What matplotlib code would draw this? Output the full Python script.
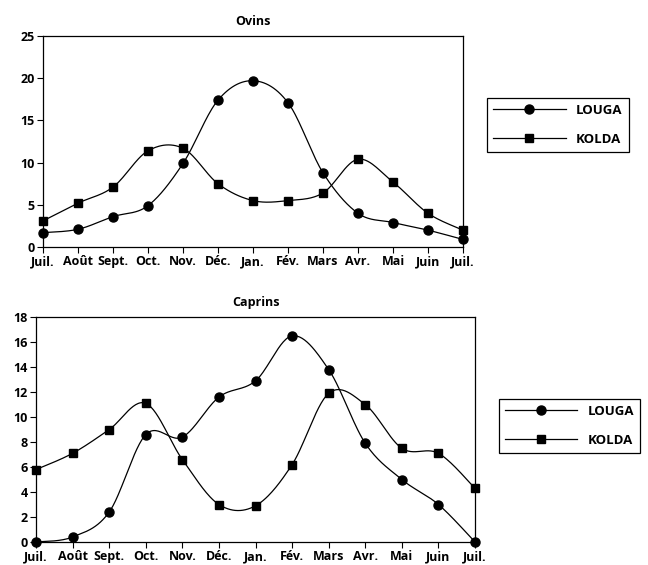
import numpy as np
import matplotlib
matplotlib.use("Agg")
import matplotlib.pyplot as plt
from matplotlib.lines import Line2D

plt.rcParams['font.family'] = ['Open Sans', 'DejaVu Sans']

months = ["Juil.", "Août", "Sept.", "Oct.", "Nov.", "Déc.", "Jan.", "Fév.",
          "Mars", "Avr.", "Mai", "Juin", "Juil."]

ovins_louga = [1.7, 2.1, 3.6, 4.9, 9.9, 17.4, 19.7, 17.1, 8.8, 4.0, 2.9, 2.0, 0.9]
ovins_kolda = [3.1, 5.2, 7.1, 11.4, 11.7, 7.5, 5.5, 5.5, 6.4, 10.4, 7.7, 4.0, 2.0]

caprins_louga = [0.0, 0.4, 2.4, 8.6, 8.4, 11.6, 12.9, 16.5, 13.8, 7.9, 5.0, 3.0, 0.0]
caprins_kolda = [5.8, 7.1, 9.0, 11.1, 6.6, 3.0, 2.9, 6.2, 11.9, 11.0, 7.5, 7.1, 4.3]

series_names = ["LOUGA", "KOLDA"]


def smooth(y, n=30):
    """Excel-like smoothing (Catmull-Rom / Bezier with 1/6 tension)."""
    y = np.asarray(y, float)
    x = np.arange(len(y), dtype=float)
    P = np.column_stack([x, y])
    ext = np.vstack([P[0], P, P[-1]])
    out = []
    for i in range(len(P) - 1):
        p0, p1, p2, p3 = ext[i], ext[i + 1], ext[i + 2], ext[i + 3]
        c1 = p1 + (p2 - p0) / 6.0
        c2 = p2 - (p3 - p1) / 6.0
        t = np.linspace(0, 1, n)[:, None]
        seg = ((1 - t) ** 3) * p1 + 3 * ((1 - t) ** 2) * t * c1 + 3 * (1 - t) * t ** 2 * c2 + t ** 3 * p2
        if i > 0:
            seg = seg[1:]
        out.append(seg)
    s = np.vstack(out)
    return s[:, 0], s[:, 1]


fig = plt.figure(figsize=(6.48, 5.65), dpi=100)

ax1 = fig.add_axes([0.0664, 0.5628, 0.648, 0.3735])
ax2 = fig.add_axes([0.0556, 0.0407, 0.6775, 0.398])

fs = 9
configs = [
    (ax1, "Ovins", ovins_louga, ovins_kolda, 25, 5, (0.861, 0.779)),
    (ax2, "Caprins", caprins_louga, caprins_kolda, 18, 2, (0.879, 0.246)),
]

for ax, title, louga, kolda, ymax, ystep, legc in configs:
    x = np.arange(len(months))
    for vals, mk in ((louga, 'o'), (kolda, 's')):
        sx, sy = smooth(vals)
        ax.plot(sx, sy, color='black', lw=0.9, zorder=2)
        ax.plot(x, vals, linestyle='none', marker=mk, color='black',
                markersize=6.5 if mk == 'o' else 6.2, zorder=3, clip_on=False)
    ax.set_xlim(0, len(months) - 1)
    ax.set_ylim(0, ymax)
    ax.set_yticks(np.arange(0, ymax + 0.1, ystep))
    ax.set_xticks(x)
    ax.set_xticklabels(months)
    ax.tick_params(axis='both', direction='out', length=4, width=0.8,
                   labelsize=fs, pad=2)
    for lab in ax.get_xticklabels() + ax.get_yticklabels():
        lab.set_fontweight('bold')
    for sp in ax.spines.values():
        sp.set_linewidth(0.9)
    ax.set_title(title, fontsize=fs, fontweight='bold', pad=8)

    handles = [
        Line2D([0], [0], color='black', lw=0.9, marker='o', markersize=6.5),
        Line2D([0], [0], color='black', lw=0.9, marker='s', markersize=6.2),
    ]
    leg = fig.legend(handles, series_names, loc='center', bbox_to_anchor=legc,
                     bbox_transform=fig.transFigure, fancybox=False,
                     edgecolor='black', framealpha=1, handlelength=5.5,
                     prop={'size': 9.5, 'weight': 'bold'},
                     borderpad=0.45, labelspacing=1.2, handletextpad=0.8,
                     borderaxespad=0)
    leg.get_frame().set_linewidth(0.9)

fig.savefig("out.png", dpi=100)
